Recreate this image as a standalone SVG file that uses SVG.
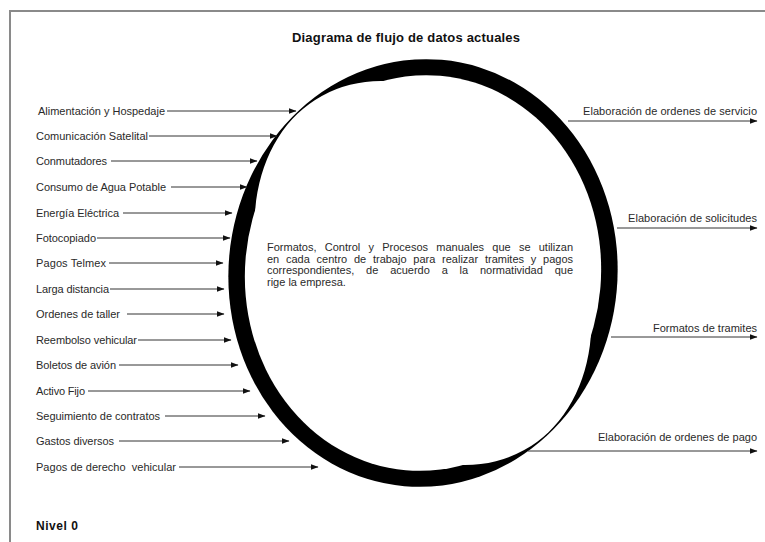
<svg xmlns="http://www.w3.org/2000/svg" width="765" height="542" viewBox="0 0 765 542">
<style>
text{font-family:"Liberation Sans",Arial,sans-serif;fill:#2a2a2a}
.lbl{font-size:11px}
.rt{font-size:11px;text-anchor:end}
.ct{font-size:11px}
.title{font-size:13px;font-weight:bold;fill:#111}
.lvl{font-size:12px;font-weight:bold;fill:#111}
.flow{stroke:#333;stroke-width:1;fill:none;marker-end:url(#ah)}
</style>
<defs>
<marker id="ah" markerUnits="userSpaceOnUse" markerWidth="8" markerHeight="6" refX="7.5" refY="3" orient="auto">
<path d="M0,0 L8,3 L0,6 Z" fill="#111"/>
</marker>
</defs>
<rect x="0" y="0" width="765" height="542" fill="#fff"/>
<path d="M10,542 V11 H765" fill="none" stroke="#8a8a8a" stroke-width="2"/>
<text class="title" x="292" y="42" textLength="228">Diagrama de flujo de datos actuales</text>

<g id="proceso">
<ellipse transform="translate(423 273) rotate(5)" rx="194.5" ry="214" fill="#000"/>
<ellipse transform="translate(423 273) rotate(5)" rx="178" ry="198" fill="#fff"/>
<ellipse transform="translate(423 273) rotate(5) scale(194.5 214) rotate(44)" rx="0.993" ry="0.76" fill="#fff"/>
<text class="ct" x="267" y="251" word-spacing="5.2" textLength="306">Formatos, Control y Procesos manuales que se utilizan</text>
<text class="ct" x="267" y="262.5" word-spacing="3.7" textLength="306">en cada centro de trabajo para realizar tramites y pagos</text>
<text class="ct" x="267" y="274" word-spacing="8.8" textLength="306">correspondientes, de acuerdo a la normatividad que</text>
<text class="ct" x="267" y="285.5">rige la empresa.</text>
</g>

<g id="e1"><text class="lbl" x="38" y="114.5" textLength="127">Alimentación y Hospedaje</text></g>
<g id="e2"><text class="lbl" x="36" y="139.5" textLength="112">Comunicación Satelital</text></g>
<g id="e3"><text class="lbl" x="36" y="164.5" textLength="71">Conmutadores</text></g>
<g id="e4"><text class="lbl" x="36" y="190.5" textLength="130">Consumo de Agua Potable</text></g>
<g id="e5"><text class="lbl" x="36" y="216.5" textLength="83">Energía Eléctrica</text></g>
<g id="e6"><text class="lbl" x="36" y="241.5" textLength="60">Fotocopiado</text></g>
<g id="e7"><text class="lbl" x="36" y="266.5" textLength="70">Pagos Telmex</text></g>
<g id="e8"><text class="lbl" x="36" y="292.5" textLength="73">Larga distancia</text></g>
<g id="e9"><text class="lbl" x="36" y="317.5" textLength="84">Ordenes de taller</text></g>
<g id="e10"><text class="lbl" x="36" y="343.5" textLength="101">Reembolso vehicular</text></g>
<g id="e11"><text class="lbl" x="36" y="368.5" textLength="80">Boletos de avión</text></g>
<g id="e12"><text class="lbl" x="36" y="394.5" textLength="49">Activo Fijo</text></g>
<g id="e13"><text class="lbl" x="36" y="419.5" textLength="124">Seguimiento de contratos</text></g>
<g id="e14"><text class="lbl" x="36" y="444.5" textLength="78">Gastos diversos</text></g>
<g id="e15"><text class="lbl" x="36" y="470.5" textLength="140" style="white-space:pre">Pagos de derecho  vehicular</text></g>

<g id="s1"><text class="rt" x="757" y="114.5" textLength="174">Elaboración de ordenes de servicio</text></g>
<g id="s2"><text class="rt" x="757" y="221.5" textLength="129">Elaboración de solicitudes</text></g>
<g id="s3"><text class="rt" x="757" y="331.5" textLength="104">Formatos de tramites</text></g>
<g id="s4"><text class="rt" x="757" y="441" textLength="159">Elaboración de ordenes de pago</text></g>

<g id="connectors">
<line class="flow" x1="167" y1="111" x2="296" y2="111"/>
<line class="flow" x1="149" y1="136" x2="277" y2="136"/>
<line class="flow" x1="111" y1="161" x2="257" y2="161"/>
<line class="flow" x1="171" y1="187" x2="247" y2="187"/>
<line class="flow" x1="123" y1="213" x2="232" y2="213"/>
<line class="flow" x1="97" y1="238" x2="230" y2="238"/>
<line class="flow" x1="109" y1="263" x2="223" y2="263"/>
<line class="flow" x1="110" y1="289" x2="224" y2="289"/>
<line class="flow" x1="127" y1="314" x2="224" y2="314"/>
<line class="flow" x1="138" y1="340" x2="231" y2="340"/>
<line class="flow" x1="119" y1="365" x2="238" y2="365"/>
<line class="flow" x1="88" y1="391" x2="250" y2="391"/>
<line class="flow" x1="165" y1="416" x2="265" y2="416"/>
<line class="flow" x1="119" y1="441" x2="289" y2="441"/>
<line class="flow" x1="179" y1="467" x2="318" y2="467"/>
<line class="flow" x1="568" y1="121" x2="757" y2="121"/>
<line class="flow" x1="617" y1="228" x2="757" y2="228"/>
<line class="flow" x1="611" y1="337" x2="757" y2="337"/>
<line class="flow" x1="528" y1="451" x2="757" y2="451"/>
</g>

<text class="lvl" x="36" y="530" textLength="42">Nivel 0</text>
</svg>
